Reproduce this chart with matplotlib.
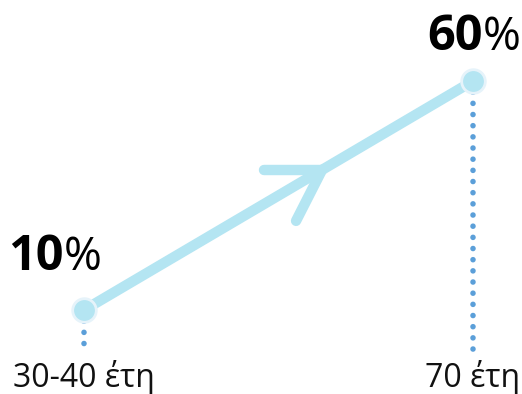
import numpy as np
import matplotlib
matplotlib.use("Agg")
import matplotlib.pyplot as plt
import matplotlib.transforms as mtransforms

plt.rcParams['font.family'] = ['Open Sans', 'DejaVu Sans']

# data
categories = ["30-40 έτη", "70 έτη"]
values = [10, 60]
pos = [0, 1]

line_col = "#b4e5f2"
dot_col = "#5b9fd9"

fig = plt.figure(figsize=(5.22, 3.94), dpi=100)
ax = fig.add_axes([0, 0, 1, 1])
ax.set_xlim(-0.216, 1.126)
ax.set_ylim(-8.34, 77.69)
ax.axis("off")

# dotted drop lines
for x, v in zip(pos, values):
    ax.plot([x, x], [v, 0.6], ls=(0, (0.01, 2.0)), lw=4.0, color=dot_col,
            solid_capstyle="round", dash_capstyle="round", zorder=1)

# main line
ax.plot(pos, values, color=line_col, lw=7.5, solid_capstyle="round", zorder=2)
ax.plot(pos, values, ls="none", marker="o", ms=17, mfc=line_col,
        mec="#e6f3fa", mew=2, zorder=3)

# chevron arrow head along the line
t = 0.612
tip = ax.transData.transform((pos[0] + t * (pos[1] - pos[0]),
                              values[0] + t * (values[1] - values[0])))
arm1 = tip + np.array([-58, 0])
arm2 = tip + np.array([-26, -51])
for arm in (arm1, arm2):
    ax.plot([arm[0], tip[0]], [arm[1], tip[1]], transform=None,
            color=line_col, lw=7.5, solid_capstyle="round", zorder=2)

# value labels
label_off = [(-20, 40), (10, 31)]
for x, v, (dx, dy) in zip(pos, values, label_off):
    ax.annotate(str(v), (x, v), xytext=(dx * 0.72, dy * 0.72),
                textcoords="offset points", ha="right", va="baseline",
                fontsize=35, fontweight="bold", color="black")
    ax.annotate("%", (x, v), xytext=(dx * 0.72, dy * 0.72),
                textcoords="offset points", ha="left", va="baseline",
                fontsize=33, color="black")

# category labels
tr = mtransforms.blended_transform_factory(ax.transData, ax.transAxes)
for x, c in zip(pos, categories):
    ax.text(x, 7 / 394, c, transform=tr, ha="center", va="baseline",
            fontsize=23, color="#111111")

fig.savefig("out.png", dpi=100)
